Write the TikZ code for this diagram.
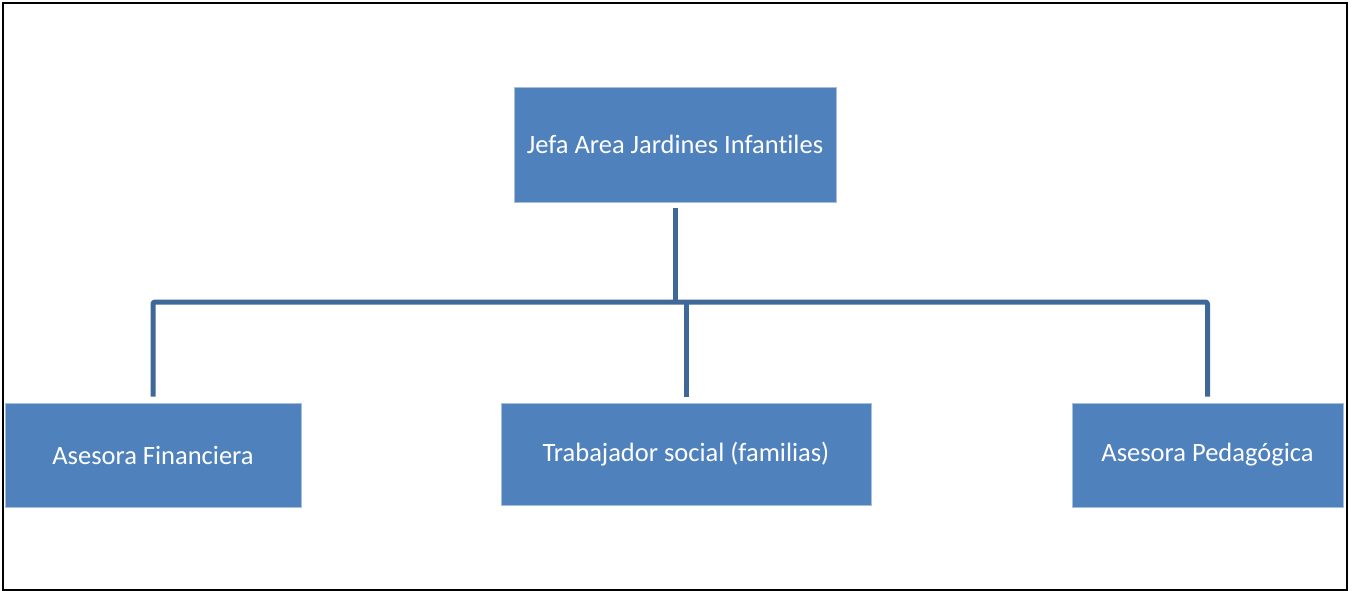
\documentclass[tikz,border=0pt]{standalone}
\usepackage{fontspec}
\setmainfont[Ligatures={NoCommon}]{Carlito}
\usetikzlibrary{calc}
\definecolor{boxblue}{HTML}{4F81BD}
\definecolor{boxedge}{HTML}{A7BFDE}
\definecolor{linkblue}{HTML}{3F6899}
\tikzset{
  orgbox/.style={draw=boxedge, line width=0.8pt, fill=boxblue, text=white,
    inner sep=0pt, font=\fontsize{26.5}{30}\selectfont},
  conn/.style={draw=linkblue, line width=5pt, line join=round, rounded corners=2pt}
}
\newcommand{\orgbox}[6]{\node[orgbox, minimum width=#4, minimum height=#5] (#1) at ( #2 , #3 ) {#6};}

\begin{document}
\begin{tikzpicture}[x=1pt,y=-1pt]
        \useasboundingbox (0,0) rectangle (1354,591);
        % frame
        \draw[line width=2pt] (2.5,3) rectangle (1346.5,589.5);
        % top
        \orgbox{jefa}{675}{144.5}{322pt}{115pt}{Jefa Area Jardines Infantiles}
        % bottom row
        \orgbox{financiera}{153}{455}{296pt}{104pt}{Asesora Financiera}
        \orgbox{trabajador}{686}{454}{370pt}{102pt}{Trabajador social (familias)}
        \orgbox{pedagogica}{1207.5}{455}{271pt}{104pt}{Asesora Pedag\'ogica}
        % bus
        \coordinate (bus) at (0,302);
        \draw[conn, shorten <=6pt] (jefa.south) -- (jefa.south |- bus);
        \draw[conn, shorten <=6pt, shorten >=6pt] (financiera.north) -- (financiera.north |- bus)
            -- (pedagogica.north |- bus) -- (pedagogica.north);
        \draw[conn, shorten <=6pt] (trabajador.north) -- (trabajador.north |- bus);
\end{tikzpicture}
\end{document}
